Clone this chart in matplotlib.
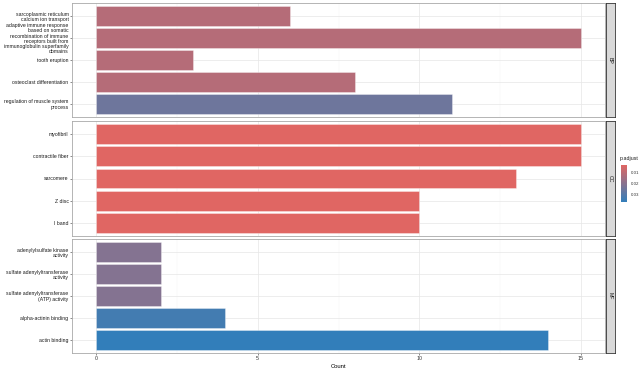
import matplotlib
matplotlib.use("Agg")
import matplotlib.pyplot as plt
import numpy as np
from matplotlib.colors import LinearSegmentedColormap, Normalize
from matplotlib.cm import ScalarMappable

plt.rcParams["font.family"] = ["Liberation Sans", "DejaVu Sans"]

# data, top to bottom within each ontology
BP_TERMS = [
    "sarcoplasmic reticulum\ncalcium ion transport",
    "adaptive immune response\nbased on somatic\nrecombination of immune\nreceptors built from\nimmunoglobulin superfamily\ndomains",
    "tooth eruption",
    "osteoclast differentiation",
    "regulation of muscle system\nprocess",
]
BP_COUNT = [6, 15, 3, 8, 11]
BP_PADJ = [0.0112, 0.0112, 0.0112, 0.0112, 0.0248]

CC_TERMS = ["myofibril", "contractile fiber", "sarcomere", "Z disc", "I band"]
CC_COUNT = [15, 15, 13, 10, 10]
CC_PADJ = [0.0028, 0.0028, 0.0028, 0.0028, 0.0028]

MF_TERMS = [
    "adenylylsulfate kinase\nactivity",
    "sulfate adenylyltransferase\nactivity",
    "sulfate adenylyltransferase\n(ATP) activity",
    "alpha-actinin binding",
    "actin binding",
]
MF_COUNT = [2, 2, 2, 4, 14]
MF_PADJ = [0.0206, 0.0206, 0.0206, 0.033, 0.0364]

PANELS = [("BP", BP_TERMS, BP_COUNT, BP_PADJ),
          ("CC", CC_TERMS, CC_COUNT, CC_PADJ),
          ("MF", MF_TERMS, MF_COUNT, MF_PADJ)]

W, H = 639, 370
cmap = LinearSegmentedColormap.from_list("padj", ["#e06663", "#327eba"])
all_p = BP_PADJ + CC_PADJ + MF_PADJ
norm = Normalize(vmin=min(all_p), vmax=max(all_p))


def px_axes(fig, x0, y0, x1, y1):
    return fig.add_axes([x0 / W, 1 - y1 / H, (x1 - x0) / W, (y1 - y0) / H])


fig = plt.figure(figsize=(W / 100, H / 100), dpi=100)
panel_y = [(3, 117), (121, 236), (239, 353)]
grid_col = "#E6E6E6"

for (label, terms, counts, padj), (y0, y1) in zip(PANELS, panel_y):
    ax = px_axes(fig, 72, y0, 605, y1)
    n = len(terms)
    ypos = np.arange(n)[::-1] + 1
    ax.barh(ypos, counts, height=0.9, color=cmap(norm(np.array(padj))),
            edgecolor=(1, 1, 1, 0.6), linewidth=0.4, zorder=3)
    ax.set_xlim(-0.75, 15.75)
    ax.set_ylim(0.4, n + 0.6)
    ax.set_yticks(ypos)
    ax.set_yticklabels(terms, fontsize=3.7, color="#1A1A1A", linespacing=1.05)
    ax.set_xticks([0, 5, 10, 15])
    ax.set_xticks([2.5, 7.5, 12.5], minor=True)
    ax.grid(which="major", color=grid_col, linewidth=0.5, zorder=0)
    ax.grid(which="minor", axis="x", color="#F2F2F2", linewidth=0.3, zorder=0)
    ax.tick_params(axis="both", which="major", length=1.5, width=0.4, color="#333333", pad=1)
    ax.tick_params(axis="both", which="minor", length=0)
    for sp in ax.spines.values():
        sp.set_color("#A8A8A8")
        sp.set_linewidth(0.6)
    if label != "MF":
        ax.tick_params(axis="x", labelbottom=False, length=0)
    else:
        ax.tick_params(axis="x", labelsize=3.8, labelcolor="#333333")
        ax.set_xlabel("Count", fontsize=4.2, labelpad=1.5)

    # facet strip on the right
    sax = px_axes(fig, 606, y0, 615, y1)
    sax.set_xticks([])
    sax.set_yticks([])
    sax.set_facecolor("#D9D9D9")
    for sp in sax.spines.values():
        sp.set_color("#333333")
        sp.set_linewidth(0.6)
    sax.text(0.5, 0.5, label, rotation=-90, ha="center", va="center",
             fontsize=3.8, color="#1A1A1A", transform=sax.transAxes)

# colour legend
cax = px_axes(fig, 621, 165, 627, 202)
cb = fig.colorbar(ScalarMappable(norm=norm, cmap=cmap), cax=cax)
cax.invert_yaxis()
cb.set_ticks([0.01, 0.02, 0.03])
cb.set_ticklabels(["0.01", "0.02", "0.03"])
cb.outline.set_visible(False)
cax.tick_params(labelsize=3.2, length=1.2, width=0.4, color="white", pad=1.5, labelcolor="#333333")
fig.text(620 / W, 1 - 158 / H, "p.adjust", fontsize=3.8, ha="left", va="center", color="#1A1A1A")

fig.savefig("out.png", dpi=100)
